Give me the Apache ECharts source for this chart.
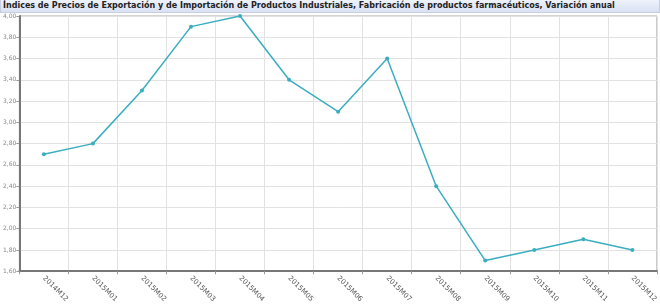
<!DOCTYPE html>
<html>
<head>
<meta charset="utf-8">
<script src="https://cdn.jsdelivr.net/npm/echarts@6/dist/echarts.min.js"></script>
<style>
html,body{margin:0;padding:0;background:#fff;}
#title{position:absolute;left:0;top:0;width:656px;height:12px;border:1px solid #c8d0e0;border-top:none;
background:linear-gradient(#eef2fb,#d9e1f3);font:bold 8px "DejaVu Sans",Arial,sans-serif;color:#222;line-height:12px;padding-left:2px;white-space:nowrap;overflow:hidden;}
#chart{position:absolute;left:0;top:0;width:660px;height:305px;}
</style>
</head>
<body>
<div id="chart"></div>
<div id="title">Índices de Precios de Exportación y de Importación de Productos Industriales, Fabricación de productos farmacéuticos, Variación anual</div>
<script>
var categories = ['2014M12','2015M01','2015M02','2015M03','2015M04','2015M05','2015M06','2015M07','2015M08','2015M09','2015M10','2015M11','2015M12'];
var values = [2.70, 2.80, 3.30, 3.90, 4.00, 3.40, 3.10, 3.60, 2.40, 1.70, 1.80, 1.90, 1.80];
var yMin = 1.6, yMax = 4.0, yStep = 0.2;

var chart = echarts.init(document.getElementById('chart'));
chart.setOption({
  animation: false,
  grid: {left: 16, right: 3, top: 16, bottom: 32, show: true, borderColor: '#a8a8a8', borderWidth: 1, containLabel: false},
  xAxis: {
    type: 'category', data: categories, boundaryGap: true,
    axisLine: {lineStyle: {color: '#777', width: 2}},
    axisTick: {show: true, alignWithLabel: false, length: 3, lineStyle: {color: '#999'}},
    splitLine: {show: true, lineStyle: {color: '#e2e2e2', width: 1}},
    axisLabel: {rotate: -45, fontSize: 7, color: '#555', fontFamily: 'DejaVu Sans', margin: 6, interval: 0, align: 'left', verticalAlign: 'middle'}
  },
  yAxis: {
    type: 'value', min: yMin, max: yMax, interval: yStep,
    axisLine: {show: true, lineStyle: {color: '#777', width: 2}},
    axisTick: {show: true, length: 3, lineStyle: {color: '#999'}},
    splitLine: {show: true, lineStyle: {color: '#e2e2e2', width: 1}},
    axisLabel: {fontSize: 6, color: '#888', fontFamily: 'DejaVu Sans', margin: 3,
      formatter: function(v){ return v.toFixed(2).replace('.', ','); }}
  },
  series: [{
    type: 'line', data: values,
    lineStyle: {color: '#3aaebf', width: 1.5},
    itemStyle: {color: '#3aaebf'},
    symbol: 'circle', symbolSize: 4
  }]
});
</script>
</body>
</html>
